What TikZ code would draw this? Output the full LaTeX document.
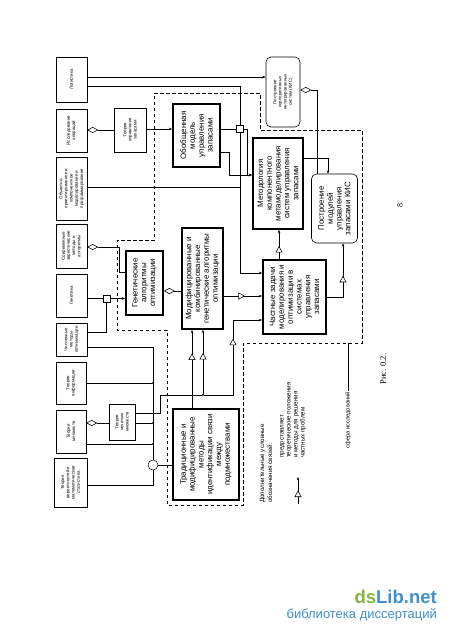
\documentclass[tikz,border=0pt]{standalone}
\usepackage{fontspec}
\setmainfont{Liberation Sans}
\newfontfamily\seriffam{Liberation Serif}
\usetikzlibrary{arrows.meta,decorations.markings}
\definecolor{wmgreen}{HTML}{8AB33D}
\definecolor{wmblue}{HTML}{3F8FCB}
\tikzset{
 sbox/.style={draw, line width=0.5pt, rotate=90, inner sep=0.3pt, align=center, font=\fontsize{4.4}{5.2}\selectfont},
 bbox/.style={draw, line width=1.8pt, rotate=90, inner sep=0.5pt, align=center, font=\fontsize{7.9}{8.8}\selectfont},
 rbox/.style={draw, line width=0.6pt, rounded corners=5pt, rotate=90, inner sep=0.5pt, align=center},
 junct/.style={draw, line width=0.5pt, fill=white, minimum size=7pt, inner sep=0pt},
 dotn/.style={circle, fill, inner sep=0pt, minimum size=2.4pt},
 conn/.style={line width=0.55pt},
 arr/.style={conn, -{Stealth[length=3.2pt,width=2.6pt]}},
 agg/.style={conn, {Diamond[fill=white,length=11pt,width=6pt]}-},
 prov/.style={arr, postaction={decorate}, decoration={markings, mark=at position #1 with {\arrow{Triangle[fill=white,length=6.5pt,width=7pt,line width=0.55pt]}}}},
 prov/.default=0.5,
 area/.style={line width=1pt, dash pattern=on 3.5pt off 2.5pt},
 legtext/.style={rotate=90, anchor=west, align=left, inner sep=0pt, font=\fontsize{6.2}{7}\selectfont},
}
\begin{document}
\begin{tikzpicture}[x=1pt,y=-1pt]
\useasboundingbox (0,0) rectangle (450,634);
% dashed research area
\draw[area] (154,93) -- (260,93) -- (260,130) -- (362,130) -- (362,343) -- (243,343) -- (243,505) -- (167,505) -- (167,330) -- (117,330) -- (117,240) -- (154,240) -- cycle;
% left column
\node[sbox, minimum width=45pt, minimum height=31pt] (log) at (71.5,79.5) {Логистика};
\node[sbox, minimum width=43pt, minimum height=31pt] (iso) at (71.5,130.5) {Исследование\\операций};
\node[sbox, minimum width=63pt, minimum height=31pt] (oop) at (71.5,188.5) {Объектно-\\ориентированное и\\компонентное\\моделирование и\\программирование};
\node[sbox, minimum width=44pt, minimum height=31pt] (evr) at (71.5,246) {Современные\\эвристические\\методы и\\алгоритмы};
\node[sbox, minimum width=43pt, minimum height=31pt] (gen) at (71.5,295.5) {Генетика};
\node[sbox, minimum width=33pt, minimum height=31pt] (num) at (71.5,339.5) {Численные\\методы\\оптимизации};
\node[sbox, minimum width=42pt, minimum height=30pt] (inf) at (71,383) {Теория\\информации};
\node[sbox, minimum width=43pt, minimum height=30pt] (mno) at (71,431.5) {Теория\\множеств};
\node[sbox, minimum width=49pt, minimum height=33pt] (ver) at (70.5,482.5) {Теория\\вероятностей и\\математическая\\статистика};
\node[sbox, minimum width=44pt, minimum height=32pt] (tuz) at (130,130) {Теория\\управления\\запасами};
\node[sbox, minimum width=36pt, minimum height=26pt] (nech) at (122,422) {Теория\\нечетких\\множеств};
% thick boxes
\node[bbox, minimum width=63pt, minimum height=47pt] (obob) at (196.5,135.5) {Обобщенная\\модель\\управления\\запасами};
\node[bbox, minimum width=64pt, minimum height=37pt] (genalg) at (144.5,283) {Генетические\\алгоритмы\\оптимизации};
\node[bbox, minimum width=101pt, minimum height=41pt] (mod) at (202.5,278.5) {Модифицированные и\\комбинированные\\генетические алгоритмы\\оптимизации};
\node[bbox, minimum width=91pt, minimum height=66pt] (trad) at (206,454.5) {Традиционные и\\модифицированные\\методы\\идентификации связи\\между\\подмножествами};
\node[bbox, minimum width=91pt, minimum height=50pt] (meth) at (278,183.5) {Методология\\компонентного\\метамоделирования\\систем управления\\запасами};
\node[bbox, minimum width=74pt, minimum height=63pt] (chast) at (294.5,297) {Частные задачи\\моделирования и\\оптимизации в\\системах\\управления\\запасами};
% rounded boxes
\node[rbox, font=\fontsize{4.4}{5.2}\selectfont, minimum width=70pt, minimum height=34pt] (kis) at (283,92) {Построение\\корпоративных\\интегрированных\\систем (КИС)};
\node[rbox, font=\fontsize{7.9}{8.8}\selectfont, minimum width=69pt, minimum height=46pt] (modul) at (334.5,208.5) {Построение\\модулей\\управления\\запасами КИС};
% junctions
\node[junct] (sq1) at (240,129) {};
\node[junct] (sq2) at (106.5,298.5) {};
\node[circle, draw, line width=0.5pt, fill=white, minimum size=10pt, inner sep=0pt] (circ) at (153,465) {};
\node[dotn] (d1) at (153,383) {};
\node[dotn] (d2) at (153,423) {};
\node[dotn] (d3) at (153,444) {};
\node[dotn] (d4) at (203,395) {};
% connectors
\draw[arr] (log.south |- 0,77) -- (kis.north |- 0,77);
\draw[conn] (log.south |- 0,86) -| (sq1.north);
\draw[arr] (sq1.south) |- (chast.north |- 0,273);
\draw[conn] (oop.south |- 0,187) -- (sq1.south |- 0,187);
\draw[agg] (iso.south |- 0,130) -- (tuz.north |- 0,130);
\draw[arr] (tuz.south |- 0,129) -- (obob.north |- 0,129);
\draw[conn] (obob.south |- 0,129) -- (sq1.west);
\draw[arr] (sq1.east) -- (247,129) -- (247,175) -- (meth.north |- 0,175);
\draw[arr] (obob.south |- 0,152) -- (229,152) -- (229,175) -- (meth.north |- 0,175);
\draw[agg] (evr.south |- 0,247) -- (119,247) -- (119,272) -- (genalg.north |- 0,272);
\draw[conn] (gen.south |- 0,298.5) -- (sq2.west);
\draw[arr] (sq2.east) -- (genalg.north |- 0,298.5);
\draw[conn] (sq2.south) |- (num.south |- 0,332);
\draw[conn] (num.south |- 0,347) -| (circ.north);
\draw[conn] (inf.south |- 0,383) -- (d1);
\draw[conn] (nech.south |- 0,423) -- (d2);
\draw[conn] (mno.south |- 0,444) -- (d3);
\draw[agg] (mno.south |- 0,423) -- (nech.north |- 0,423);
\draw[conn] (circ.east) -- (trad.north |- 0,465);
\draw[conn] (ver.south |- 0,485) -| (circ.south);
\draw[prov=0.78] (nech.south |- 0,413) -- (160,413) -- (160,395) -- (d4) -- (233,395) -- (233,320) -- (chast.north |- 0,320);
\draw[prov=0.64] (d4) -- (d4 |- mod.west);
\draw[prov=0.7] (192,0 |- trad.east) -- (192,0 |- mod.west);
\draw[agg] (genalg.south |- 0,291) -- (mod.north |- 0,291);
\draw[prov=0.55] (mod.south |- 0,296) -- (chast.north |- 0,296);
\draw[prov=0.45] (279,0 |- chast.east) -- (279,0 |- meth.west);
\draw[prov=0.535] (chast.south |- 0,297) -- (343,297) -- (343,0 |- modul.west);
\draw[arr] (meth.south |- 0,158) -| (328,0 |- modul.east);
\draw[agg] (kis.south |- 0,90) -- (317,90) -- (317,0 |- modul.east);
% legend
\node[legtext, font=\fontsize{6.2}{8}\selectfont] (lgh) at (266,503) {Дополнительные условные\\обозначения связей:};
\coordinate (lga) at (298,504);
\coordinate (lgb) at (298,477);
\draw[prov=0.5] (lga) -- (lgb);
\node[legtext] (lgt) at (293,458) {предоставляет\\теоретические положения\\и методы для решения\\частных проблем};
\node[rotate=90, anchor=east, inner sep=1pt, font=\fontsize{5.7}{6}\selectfont] (sfera) at (348,391) {сфера исследований};
\draw[conn] (sfera.east) -- (sfera.east |- 0,343);
\node[rotate=90, font=\seriffam\fontsize{8.5}{10}\selectfont] (fig) at (383,369) {Рис. 0.2.};
\node[rotate=90, font=\seriffam\fontsize{8}{10}\selectfont] (pg) at (400,205) {8};
% watermark
\node[anchor=base east, inner sep=0pt, font=\bfseries\fontsize{18.5}{20}\selectfont] (wm1) at (437,603) {\textcolor{wmgreen}{ds}\textcolor{wmblue}{Lib.net}};
\node[anchor=base east, inner sep=0pt, text=wmblue, font=\fontsize{13}{14}\selectfont] (wm2) at (437,618) {библиотека диссертаций};
\end{tikzpicture}
\end{document}
